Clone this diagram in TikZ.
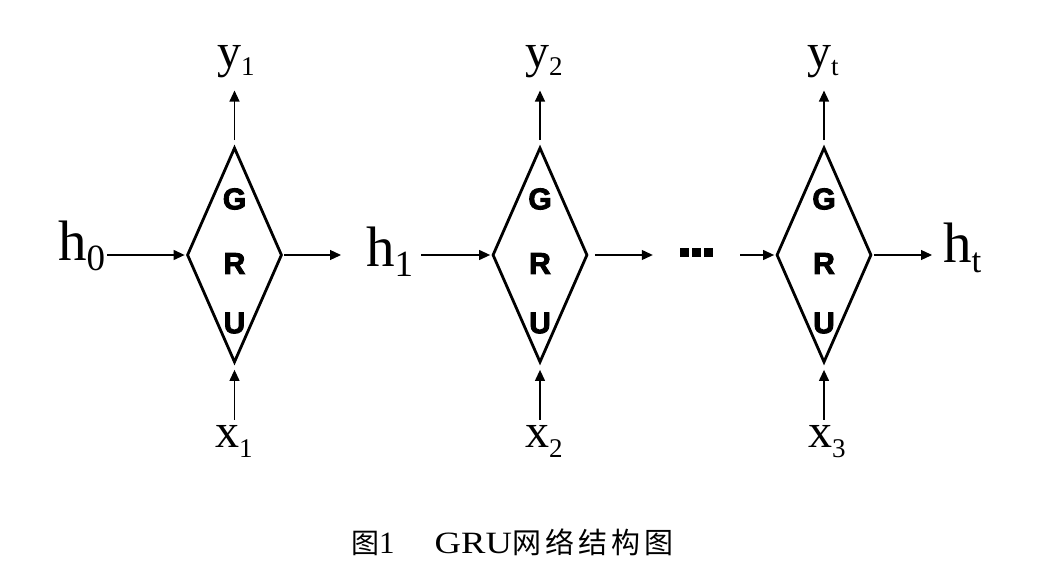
\documentclass[tikz,border=0pt]{standalone}
\usepackage{fontspec}
\setmainfont{Liberation Serif}
\setsansfont{Liberation Sans}
\newfontfamily\cjk{Noto Sans CJK SC}
\newfontfamily\grufont[BoldFeatures={FakeBold=3}]{Liberation Sans}
\usetikzlibrary{arrows.meta,shapes.geometric}
\newcommand\fsz[1]{\fontsize{#1}{#1}\selectfont}
% #1 big size, #2 letter, #3 small size, #4 subscript, #5 lowering
\newcommand\sublbl[5]{{\fsz{#1}#2}{\fsz{#3}\raisebox{-#5pt}{#4}}}
\begin{document}
\begin{tikzpicture}[x=1pt,y=-1pt,
  gru/.style={diamond, draw, line width=2.8pt, minimum width=95pt, minimum height=215pt, inner sep=0pt},
  gl/.style={inner sep=0pt, font=\grufont\bfseries\fsz{30}},
  lbl/.style={anchor=base west, inner sep=0pt},
  arr/.style={line width=1.2pt, -{Triangle[length=11pt,width=10pt]}},
]
\useasboundingbox[fill=white] (0,0) rectangle (1040,569);

\foreach \n/\cx in {1/234.5, 2/540, 3/824} {
  \node[gru] (g\n) at (\cx,255) {};
  \node[gl] (g\n G) at (\cx,199) {G};
  \node[gl] (g\n R) at (\cx,263.5) {R};
  \node[gl] (g\n U) at (\cx,323) {U};
}

% hidden-state labels
\node[lbl] (h0) at (58,260) {\sublbl{57}{h}{37}{0}{10}};
\node[lbl] (h1) at (366,266) {\sublbl{57}{h}{37}{1}{10}};
\node[lbl] (ht) at (943,262) {\sublbl{57}{h}{35}{t}{10}};

% outputs and inputs
\node[lbl] (y1) at (217,68) {\sublbl{48}{y}{27}{1}{8}};
\node[lbl] (y2) at (525,68) {\sublbl{48}{y}{27}{2}{8}};
\node[lbl] (yt) at (807,68) {\sublbl{48}{y}{27}{t}{8}};
\node[lbl] (x1) at (215,447) {\sublbl{48}{x}{27}{1}{10}};
\node[lbl] (x2) at (525,447) {\sublbl{48}{x}{27}{2}{10}};
\node[lbl] (x3) at (808,447) {\sublbl{48}{x}{27}{3}{10}};

% ellipsis
\node[minimum width=33pt, minimum height=9pt, inner sep=0pt] (dots) at (696.5,252.5) {};
\foreach \i in {0,1,2}
  \fill ([xshift=\i*12pt]dots.west) ++(0,-4.5) rectangle ++(9,9);

% horizontal connectors
\draw[arr, shorten <=2pt, shorten >=1pt] (h0.east |- g1.west) -- (g1.west);
\draw[arr, shorten <=1pt, shorten >=25pt] (g1.east) -- (g1.east -| h1.west);
\draw[arr, shorten <=8pt, shorten >=1pt] (h1.east |- g2.west) -- (g2.west);
\draw[arr, shorten <=6pt, shorten >=27pt] (g2.east) -- (g2.east -| dots.west);
\draw[arr, shorten <=27pt, shorten >=1pt] (dots.east |- g3.west) -- (g3.west);
\draw[arr, shorten <=1pt, shorten >=11pt] (g3.east) -- (g3.east -| ht.west);

% vertical connectors
\foreach \n/\y/\x in {1/y1/x1, 2/y2/x2, 3/yt/x3} {
  \draw[arr, shorten <=6pt, shorten >=12pt] (g\n.north) -- (g\n.north |- \y.south);
  \draw[arr, shorten <=5pt, shorten >=6pt] (g\n.south |- \x.north) -- (g\n.south);
}

% caption
\node[anchor=base west, inner sep=0pt] (cap) at (351,553)
  {{\cjk\fsz{28}图}{\fsz{31}1}\hspace{40pt}{\fsz{31}\scalebox{1.18}[1]{GRU}}\hspace{1pt}{\cjk\fsz{29}网\hspace{4pt}络\hspace{4pt}结\hspace{4pt}构\hspace{4pt}图}};
\end{tikzpicture}
\end{document}
